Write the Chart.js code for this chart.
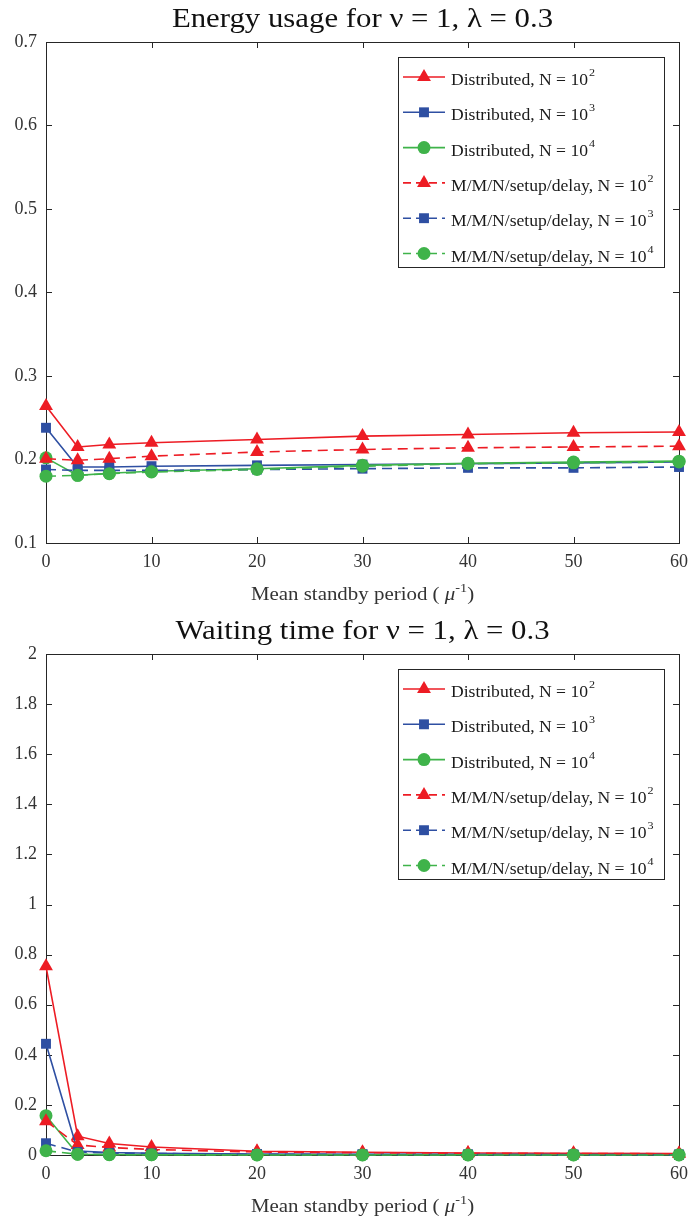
<!DOCTYPE html>
<html>
<head>
<meta charset="utf-8">
<script src="https://cdn.jsdelivr.net/npm/chart.js@4.4.0/dist/chart.umd.min.js"></script>
<style>
    body { margin: 0; background: #fff; }
    .wykres { position: relative; width: 690px; height: 612px; }
</style>
</head>
<body>
<div class="wykres"><canvas id="energyChart"></canvas></div>
<div class="wykres"><canvas id="waitChart"></canvas></div>
<script>
// mean standby period (x axis)
const standby = [0, 3, 6, 10, 20, 30, 40, 50, 60];
const xTicks = [0, 10, 20, 30, 40, 50, 60];

// legend names: base text + exponent
const seriesBase = ['Distributed, N = 10', 'Distributed, N = 10', 'Distributed, N = 10',
    'M/M/N/setup/delay, N = 10', 'M/M/N/setup/delay, N = 10', 'M/M/N/setup/delay, N = 10'];
const seriesExp = ['2', '3', '4', '2', '3', '4'];

// energy usage
const energyDist100 = [0.264, 0.215, 0.218, 0.220, 0.224, 0.228, 0.230, 0.232, 0.233];
const energyDist1000 = [0.238, 0.191, 0.191, 0.192, 0.193, 0.194, 0.195, 0.196, 0.197];
const energyDist10000 = [0.202, 0.181, 0.1835, 0.186, 0.189, 0.193, 0.1955, 0.197, 0.198];
const energyMmn100 = [0.201, 0.199, 0.201, 0.204, 0.209, 0.212, 0.214, 0.215, 0.216];
const energyMmn1000 = [0.188, 0.187, 0.187, 0.187, 0.188, 0.189, 0.190, 0.190, 0.191];
const energyMmn10000 = [0.180, 0.181, 0.183, 0.185, 0.188, 0.192, 0.195, 0.196, 0.197];
const energyYTicks = [0.1, 0.2, 0.3, 0.4, 0.5, 0.6, 0.7];

// waiting time
const waitDist100 = [0.753, 0.075, 0.046, 0.032, 0.015, 0.011, 0.008, 0.007, 0.006];
const waitDist1000 = [0.444, 0.016, 0.010, 0.007, 0.004, 0.003, 0.002, 0.002, 0.002];
const waitDist10000 = [0.157, 0.003, 0.002, 0.001, 0.001, 0.001, 0.001, 0.001, 0.001];
const waitMmn100 = [0.135, 0.040, 0.030, 0.022, 0.012, 0.009, 0.007, 0.006, 0.005];
const waitMmn1000 = [0.047, 0.012, 0.008, 0.006, 0.003, 0.002, 0.002, 0.001, 0.001];
const waitMmn10000 = [0.017, 0.003, 0.001, 0.001, 0, 0, 0, 0, 0];
const waitYTicks = [0, 0.2, 0.4, 0.6, 0.8, 1, 1.2, 1.4, 1.6, 1.8, 2];

const RED = '#ED1C24', BLUE = '#2E4FA2', GREEN = '#3FB34A';
const SERIF = '"Liberation Serif", "Times New Roman", serif';
const AXIS = '#262626';
const STRETCH = 1.1; // text in the figure is a bit wider than plain Times

const styles = [
    { color: RED, point: 'triangle', r: 8, dash: [] },
    { color: BLUE, point: 'rect', r: 7, dash: [] },
    { color: GREEN, point: 'circle', r: 6.5, dash: [] },
    { color: RED, point: 'triangle', r: 8, dash: [10, 6] },
    { color: BLUE, point: 'rect', r: 7, dash: [10, 6] },
    { color: GREEN, point: 'circle', r: 6.5, dash: [10, 6] }
];

function zbudujSerie(lista) {
    return lista.map((wartosci, i) => ({
        label: seriesBase[i] + seriesExp[i],
        data: standby.map((x, j) => ({ x: x, y: wartosci[j] })),
        borderColor: styles[i].color,
        backgroundColor: styles[i].color,
        pointBackgroundColor: styles[i].color,
        pointBorderColor: styles[i].color,
        pointBorderWidth: 0,
        pointStyle: styles[i].point,
        pointRadius: styles[i].r,
        pointHoverRadius: styles[i].r,
        borderWidth: 1.6,
        borderDash: styles[i].dash,
        tension: 0,
        clip: false,
        order: 6 - i
    }));
}

function rysujZnacznik(ctx, styl, x, y) {
    const r = styl.r;
    ctx.beginPath();
    if (styl.point === 'triangle') {
        for (let k = 0; k < 3; k++) {
            const a = k * 2 * Math.PI / 3;
            const px = x + Math.sin(a) * r, py = y - Math.cos(a) * r;
            if (k === 0) ctx.moveTo(px, py); else ctx.lineTo(px, py);
        }
        ctx.closePath();
    } else if (styl.point === 'rect') {
        const s = r * Math.SQRT1_2;
        ctx.rect(x - s, y - s, 2 * s, 2 * s);
    } else {
        ctx.arc(x, y, r, 0, 2 * Math.PI);
    }
    ctx.fill();
}

// stretched text, returns its width
function tekst(ctx, str, x, y) {
    ctx.save();
    ctx.translate(x, y);
    ctx.scale(STRETCH, 1);
    ctx.fillText(str, 0, 0);
    ctx.restore();
    return ctx.measureText(str).width * STRETCH;
}

// frame and inward tick marks
const ramka = {
    id: 'ramka',
    beforeDatasetsDraw(chart) {
        const { ctx, chartArea: a, scales } = chart;
        ctx.save();
        ctx.strokeStyle = AXIS;
        ctx.lineWidth = 1;
        ctx.strokeRect(Math.round(a.left) + 0.5, Math.round(a.top) + 0.5,
            Math.round(a.right - a.left), Math.round(a.bottom - a.top));
        ctx.beginPath();
        scales.x.ticks.forEach(t => {
            const px = Math.round(scales.x.getPixelForValue(t.value)) + 0.5;
            ctx.moveTo(px, a.bottom); ctx.lineTo(px, a.bottom - 6);
            ctx.moveTo(px, a.top); ctx.lineTo(px, a.top + 6);
        });
        scales.y.ticks.forEach(t => {
            const py = Math.round(scales.y.getPixelForValue(t.value)) + 0.5;
            ctx.moveTo(a.left, py); ctx.lineTo(a.left + 6, py);
            ctx.moveTo(a.right, py); ctx.lineTo(a.right - 6, py);
        });
        ctx.stroke();
        ctx.restore();
    }
};

// title above the plot and x axis title below
const napisy = {
    id: 'napisy',
    afterDraw(chart) {
        const { ctx, chartArea: a } = chart;
        const srodek = (a.left + a.right) / 2;
        ctx.save();
        ctx.textBaseline = 'alphabetic';
        ctx.fillStyle = '#111';
        ctx.font = '28px ' + SERIF;
        const t = chart.options.plugins.napisy;
        const wT = ctx.measureText(t.tytul).width * STRETCH;
        tekst(ctx, t.tytul, srodek - wT / 2, 27);

        // Mean standby period ( mu^-1 )
        ctx.fillStyle = '#333';
        const czesci = [
            { s: 'Mean standby period ( ', f: '19px ' + SERIF, dy: 0 },
            { s: '\u03bc', f: 'italic 19px ' + SERIF, dy: 0 },
            { s: '-1', f: '13px ' + SERIF, dy: -8 },
            { s: ')', f: '19px ' + SERIF, dy: 0 }
        ];
        let szer = 0;
        czesci.forEach(c => { ctx.font = c.f; szer += ctx.measureText(c.s).width * STRETCH; });
        let x = srodek - szer / 2;
        const yb = chart.height - 12;
        czesci.forEach(c => { ctx.font = c.f; x += tekst(ctx, c.s, x, yb + c.dy); });
        ctx.restore();
    }
};

// legend box inside the plot, top right
const legenda = {
    id: 'legenda',
    afterDatasetsDraw(chart) {
        const { ctx, chartArea: a } = chart;
        const w = 266, h = 210;
        const x0 = Math.round(a.right - 15 - w), y0 = Math.round(a.top + 15);
        ctx.save();
        ctx.fillStyle = '#fff';
        ctx.fillRect(x0, y0, w, h);
        ctx.strokeStyle = AXIS;
        ctx.lineWidth = 1;
        ctx.strokeRect(x0 + 0.5, y0 + 0.5, w, h);
        styles.forEach((s, i) => {
            const y = y0 + 20 + i * 35.3;
            ctx.strokeStyle = s.color;
            ctx.fillStyle = s.color;
            ctx.lineWidth = 1.6;
            ctx.setLineDash(s.dash.length ? [8, 5] : []);
            ctx.beginPath();
            ctx.moveTo(x0 + 5, y); ctx.lineTo(x0 + 47, y);
            ctx.stroke();
            ctx.setLineDash([]);
            rysujZnacznik(ctx, s, x0 + 26, y);
            ctx.fillStyle = '#1a1a1a';
            ctx.textBaseline = 'alphabetic';
            ctx.font = '16px ' + SERIF;
            const szer = tekst(ctx, seriesBase[i], x0 + 53, y + 8);
            ctx.font = '11px ' + SERIF;
            tekst(ctx, seriesExp[i], x0 + 53 + szer + 1, y - 1);
        });
        ctx.restore();
    }
};

function opcje(tytul, yMin, yMax, yStep) {
    return {
        responsive: true,
        maintainAspectRatio: false,
        animation: false,
        layout: { padding: { left: 0, right: 11, top: 42, bottom: 0 } },
        plugins: {
            legend: { display: false },
            tooltip: { enabled: false },
            title: { display: false },
            napisy: { tytul: tytul }
        },
        scales: {
            x: {
                type: 'linear',
                min: 0, max: 60,
                afterBuildTicks: s => { s.ticks = xTicks.map(v => ({ value: v })); },
                afterFit: s => { s.height = 69; s.paddingLeft = 0; s.paddingRight = 0; },
                grid: { display: false, drawTicks: false },
                border: { display: false },
                ticks: { color: '#333', font: { family: SERIF, size: 18 }, padding: 8, maxRotation: 0 }
            },
            y: {
                min: yMin, max: yMax,
                ticks: {
                    stepSize: yStep,
                    color: '#333',
                    font: { family: SERIF, size: 18 },
                    padding: 9,
                    callback: v => String(+v.toFixed(1))
                },
                afterFit: s => { s.width = 46; s.paddingTop = 0; s.paddingBottom = 0; },
                grid: { display: false, drawTicks: false },
                border: { display: false }
            }
        }
    };
}

document.addEventListener('DOMContentLoaded', function() {
    new Chart(document.getElementById('energyChart').getContext('2d'), {
        type: 'line',
        data: { datasets: zbudujSerie([energyDist100, energyDist1000, energyDist10000,
            energyMmn100, energyMmn1000, energyMmn10000]) },
        options: opcje('Energy usage for \u03bd = 1, \u03bb = 0.3', energyYTicks[0],
            energyYTicks[energyYTicks.length - 1], 0.1),
        plugins: [ramka, legenda, napisy]
    });

    new Chart(document.getElementById('waitChart').getContext('2d'), {
        type: 'line',
        data: { datasets: zbudujSerie([waitDist100, waitDist1000, waitDist10000,
            waitMmn100, waitMmn1000, waitMmn10000]) },
        options: opcje('Waiting time for \u03bd = 1, \u03bb = 0.3', waitYTicks[0],
            waitYTicks[waitYTicks.length - 1], 0.2),
        plugins: [ramka, legenda, napisy]
    });
});
</script>
</body>
</html>
